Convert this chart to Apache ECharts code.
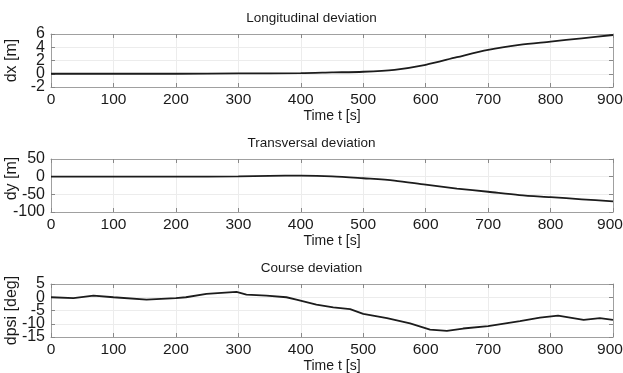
<!DOCTYPE html>
<html>
<head>
<meta charset="utf-8">
<script src="https://cdn.jsdelivr.net/npm/echarts@6/dist/echarts.min.js"></script>
<style>
  html, body { margin: 0; padding: 0; background: #fff; }
  #chart { width: 623px; height: 373px; }
</style>
</head>
<body>
<div id="chart"></div>
<script>
// time ticks shared by all three panels
const xTicks = [0, 100, 200, 300, 400, 500, 600, 700, 800, 900]

// longitudinal deviation dx [m]
const tDx = [0, 100, 200, 300, 400, 450, 500, 550, 600, 650, 700, 750, 800, 850, 900]
const dx = [0, 0, 0, 0.05, 0.1, 0.2, 0.3, 0.6, 1.35, 2.5, 3.6, 4.35, 4.85, 5.35, 5.85]
const dxTicks = [-2, 0, 2, 4, 6]

// transversal deviation dy [m]
const tDy = [0, 100, 200, 300, 350, 400, 450, 500, 550, 600, 650, 700, 750, 800, 850, 900]
const dy = [0, 0, 0, 1, 2.5, 2.7, 1, -4.5, -11, -22.7, -33.6, -42.7, -52, -58, -64, -70]
const dyTicks = [-100, -50, 0, 50]

// course deviation dpsi [deg]
const tPsi = [0, 36, 68, 100, 153, 200, 216, 249, 297, 313, 345, 377, 393, 425, 452, 479, 500,
  538, 575, 607, 634, 660, 700, 751, 783, 812, 853, 879, 900]
const dpsi = [0, -0.3, 0.6, 0, -0.9, -0.3, 0, 1.3, 2.0, 1.0, 0.6, 0, -0.9, -2.8, -3.8, -4.5, -6.3,
  -7.9, -9.9, -12.2, -12.7, -11.8, -10.9, -9, -7.7, -6.9, -8.5, -7.9, -8.5]
const psiTicks = [-15, -10, -5, 0, 5]

const panels = [
  { title: 'Longitudinal deviation', yName: 'dx [m]', t: tDx, v: dx, ticks: dxTicks, top: 34, namePad: 0 },
  { title: 'Transversal deviation', yName: 'dy [m]', t: tDy, v: dy, ticks: dyTicks, top: 159, namePad: 14 },
  { title: 'Course deviation', yName: 'dpsi [deg]', t: tPsi, v: dpsi, ticks: psiTicks, top: 284, namePad: 0 }
]

const font = 'Liberation Sans, Arial, sans-serif'
const textColor = '#1a1a1a'
const boxColor = '#a0a0a0'
const gridColor = '#ececec'
const tickStyle = { show: true, inside: true, length: 4, lineStyle: { color: '#888' } }

const chart = echarts.init(document.getElementById('chart'), null, { renderer: 'canvas' })

const option = {
  animation: false,
  backgroundColor: '#fff',
  title: [],
  grid: [],
  xAxis: [],
  yAxis: [],
  series: []
}

panels.forEach((p, i) => {
  const min = p.ticks[0]
  const max = p.ticks[p.ticks.length - 1]
  const step = p.ticks[1] - p.ticks[0]
  const last = p.ticks.length - 1

  option.title.push({
    text: p.title,
    left: 'center',
    top: p.top - 28,
    textStyle: { fontFamily: font, fontSize: 13.5, fontWeight: 'normal', color: textColor }
  })
  option.grid.push({
    left: 51, right: 10, top: p.top, height: 53,
    containLabel: false,
    outerBoundsMode: 'none'
  })

  // bottom axis with labels
  option.xAxis.push({
    type: 'value',
    gridIndex: i,
    min: 0,
    max: 900,
    interval: 100,
    name: 'Time t [s]',
    nameLocation: 'middle',
    nameGap: 22,
    nameMoveOverlap: false,
    nameTextStyle: { fontFamily: font, fontSize: 14, color: textColor },
    axisLine: { show: true, onZero: false, lineStyle: { color: boxColor, width: 1 } },
    axisTick: tickStyle,
    axisLabel: {
      fontFamily: font, fontSize: 15.5, color: textColor, margin: 5,
      showMinLabel: true, showMaxLabel: true, hideOverlap: false,
      formatter: v => v === 900 ? '{r|900}' : (xTicks.includes(v) ? String(v) : ''),
      rich: { r: { fontFamily: font, fontSize: 15.5, color: textColor, padding: [0, 6, 0, 0] } }
    },
    splitLine: { show: true, lineStyle: { color: gridColor, width: 1 } }
  })
  // top mirror axis
  option.xAxis.push({
    type: 'value',
    gridIndex: i,
    position: 'top',
    min: 0,
    max: 900,
    interval: 100,
    axisLine: { show: true, onZero: false, lineStyle: { color: boxColor, width: 1 } },
    axisTick: tickStyle,
    axisLabel: { show: false },
    splitLine: { show: false }
  })

  // left axes: labels split over two overlaid axes (even / odd ticks)
  // so the tight spacing does not make echarts drop any of them
  ;[0, 1].forEach(part => {
    const shows = k => k % 2 === part
    option.yAxis.push({
      type: 'value',
      gridIndex: i,
      position: 'left',
      offset: 0,
      min: min,
      max: max,
      interval: step,
      name: part === 0 ? p.yName : '',
      nameLocation: 'middle',
      nameRotate: 90,
      nameGap: 31,
      nameMoveOverlap: false,
      nameTextStyle: { fontFamily: font, fontSize: 16, color: textColor, padding: [0, 0, 0, p.namePad] },
      axisLine: { show: part === 0, onZero: false, lineStyle: { color: boxColor, width: 1 } },
      axisTick: part === 0 ? tickStyle : { show: false },
      axisLabel: {
        fontFamily: font, fontSize: 16, color: textColor, margin: 6,
        showMinLabel: shows(0), showMaxLabel: shows(last), hideOverlap: false,
        formatter: v => {
          const k = p.ticks.indexOf(v)
          return k >= 0 && shows(k) ? String(v) : ''
        }
      },
      splitLine: { show: part === 0, lineStyle: { color: gridColor, width: 1 } }
    })
  })
  // right mirror axis
  option.yAxis.push({
    type: 'value',
    gridIndex: i,
    position: 'right',
    offset: 0,
    min: min,
    max: max,
    interval: step,
    axisLine: { show: true, onZero: false, lineStyle: { color: boxColor, width: 1 } },
    axisTick: tickStyle,
    axisLabel: { show: false },
    splitLine: { show: false }
  })

  option.series.push({
    type: 'line',
    xAxisIndex: i * 2,
    yAxisIndex: i * 3,
    showSymbol: false,
    smooth: i < 2 ? 0.3 : false,
    lineStyle: { color: '#1c1c1c', width: 1.8 },
    data: p.t.map((t, k) => [t, p.v[k]])
  })
})

chart.setOption(option)
</script>
</body>
</html>
